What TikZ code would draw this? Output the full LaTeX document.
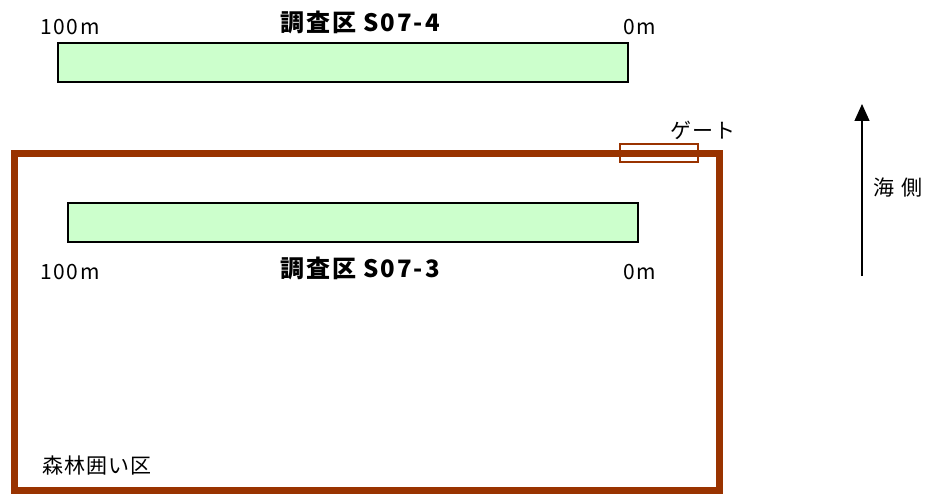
\documentclass[tikz,border=0pt]{standalone}
\usepackage{fontspec}
\setmainfont{Noto Sans CJK JP}
\newfontfamily\jpsp[LetterSpace=8]{Noto Sans CJK JP}
\newfontfamily\jpsq[LetterSpace=4]{Noto Sans CJK JP}
\newfontfamily\jpsw[LetterSpace=30]{Noto Sans CJK JP}
\usetikzlibrary{arrows.meta}
\definecolor{plotgreen}{HTML}{CCFFCC}
\definecolor{fencebrown}{HTML}{993300}
\begin{document}
\begin{tikzpicture}[x=1pt,y=-1pt,
  plot/.style={draw=black,fill=plotgreen,line width=1.8pt},
  fence/.style={draw=fencebrown,line width=7pt},
  gatebox/.style={draw=fencebrown,line width=1.3pt},
  title/.style={font=\jpsp\bfseries\fontsize{24}{24}\selectfont,inner sep=0pt},
  dist/.style={font=\jpsp\fontsize{21}{21}\selectfont,inner sep=0pt},
  lbl/.style={font=\jpsq\fontsize{21}{21}\selectfont,inner sep=0pt}]
\useasboundingbox (0,0) rectangle (930,495);
% forest enclosure
\draw[fence] (14,153) rectangle (719,490);
% gate
\node[gatebox,minimum width=78pt,minimum height=18pt,inner sep=0pt] (gate) at (659,153) {};
\node[lbl,anchor=center] (gatelbl) at (703,130) {ゲート};
% plots
\node[plot,minimum width=570pt,minimum height=39pt,inner sep=0pt] (s4) at (343,62.5) {};
\node[plot,minimum width=570pt,minimum height=39pt,inner sep=0pt] (s3) at (353,222.5) {};
% labels
\node[title] (t4) at (360,22) {調査区 S07-4};
\node[dist] (d4a) at (70,27) {100m};
\node[dist] (d4b) at (640,27) {0m};
\node[title] (t3) at (360,268) {調査区 S07-3};
\node[dist] (d3a) at (70,272) {100m};
\node[dist] (d3b) at (640,272) {0m};
\node[lbl] (forest) at (97,466) {森林囲い区};
% sea-side arrow
\coordinate (abot) at (862,276);
\coordinate (atop) at (862,104);
\draw[line width=1.3pt,-{Triangle[length=17pt,width=15pt]}] (abot) -- (atop);
\node[font=\jpsw\fontsize{21}{21}\selectfont,inner sep=0pt] (sea) at (898,188) {海側};
\end{tikzpicture}
\end{document}
